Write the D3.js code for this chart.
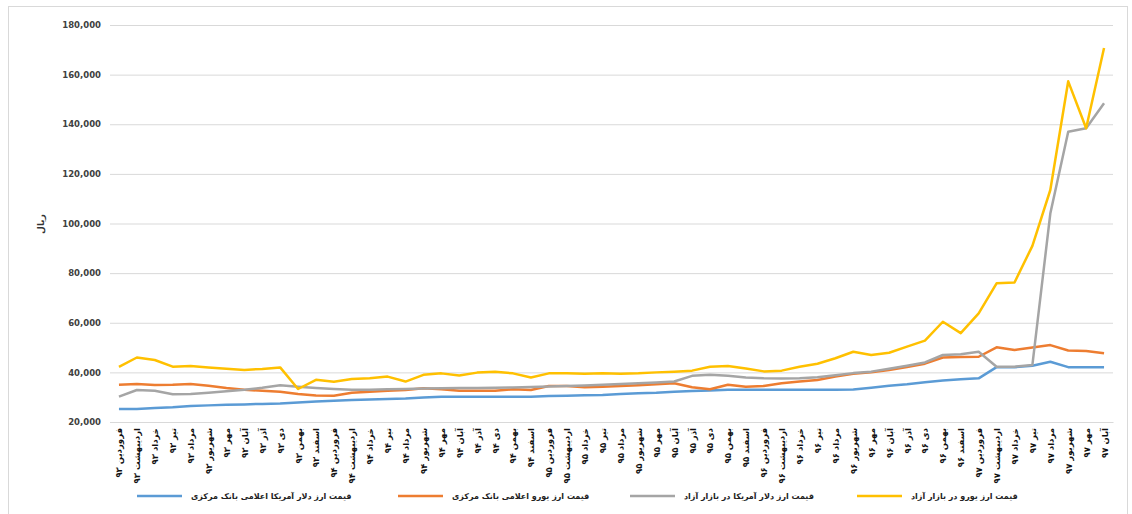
<!DOCTYPE html>
<html>
<head>
<meta charset="utf-8">
<script src="https://cdn.jsdelivr.net/npm/d3@7"></script>
<style>
  body { margin: 0; background: #fff; }
  text { font-family: "DejaVu Sans", sans-serif; }
</style>
</head>
<body>
<div id="root"></div>
<script>
const monthNames = ["فروردین", "اردیبهشت", "خرداد", "تیر", "مرداد", "شهریور", "مهر", "آبان", "آذر", "دی", "بهمن", "اسفند"];
const yearNames = ["۹۳", "۹۴", "۹۵", "۹۶", "۹۷"];

// month labels: farvardin 93 .. aban 97
let categories = [];
yearNames.forEach((y, yi) => {
  monthNames.forEach((m, mi) => {
    if (yi < 4 || mi < 8) categories.push(m + " " + y);
  });
});

const usdCentral = [25200, 25200, 25600, 25900, 26400, 26700, 27000, 27100, 27300, 27500, 27900, 28300, 28600, 28900,
  29100, 29300, 29500, 29900, 30200, 30200, 30200, 30200, 30200, 30200, 30500, 30600, 30800, 30900, 31300, 31600,
  31800, 32200, 32500, 32700, 33000, 33000, 33000, 33000, 33000, 33000, 33000, 33100, 33800, 34600, 35200, 36000,
  36700, 37200, 37600, 42100, 42100, 42700, 44300, 42100, 42100, 42100];

const eurCentral = [35000, 35300, 34900, 35000, 35300, 34600, 33700, 33000, 32600, 32200, 31300, 30700, 30600, 31800,
  32200, 32600, 32900, 33600, 33200, 32600, 32600, 32600, 33200, 32900, 34500, 34500, 34000, 34200, 34500, 34800,
  35200, 35600, 34000, 33200, 35000, 34200, 34500, 35600, 36300, 36900, 38300, 39400, 40000, 41000, 42200, 43500,
  46000, 46200, 46300, 50100, 49000, 50000, 51000, 48800, 48600, 47700];

const usdFree = [30200, 32900, 32600, 31200, 31300, 31800, 32400, 33000, 33800, 34800, 34200, 33700, 33300, 33000,
  33000, 33200, 33300, 33500, 33600, 33700, 33700, 33800, 33900, 34100, 34300, 34500, 34700, 35000, 35300, 35600,
  35900, 36300, 38600, 39000, 38600, 37900, 37600, 37500, 37600, 38000, 38800, 39700, 40300, 41500, 42700, 44000,
  47000, 47300, 48300, 42300, 42300, 43000, 104000, 137000, 138400, 148500];

const eurFree = [42200, 46000, 45000, 42300, 42600, 42000, 41500, 41000, 41400, 42000, 33300, 37000, 36200, 37300,
  37600, 38300, 36300, 39000, 39600, 38700, 39900, 40300, 39600, 37900, 39600, 39600, 39400, 39600, 39400, 39600,
  40000, 40300, 40700, 42300, 42600, 41600, 40400, 40700, 42300, 43500, 45700, 48300, 47000, 47900, 50400, 52800,
  60400, 55800, 63800, 75900, 76200, 91000, 113500, 157300, 138400, 170700];

const seriesNames = [
  "قیمت ارز دلار آمریکا اعلامی بانک مرکزی",
  "قیمت ارز یورو اعلامی بانک مرکزی",
  "قیمت ارز دلار آمریکا در بازار آزاد",
  "قیمت ارز یورو در بازار آزاد"
];
const seriesColors = ["#5b9bd5", "#ed7d31", "#a5a5a5", "#ffc000"];
const seriesValues = [usdCentral, eurCentral, usdFree, eurFree];
const yTicks = [20000, 40000, 60000, 80000, 100000, 120000, 140000, 160000, 180000];

const width = 1132;
const height = 514;

const svg = d3.select("#root")
  .append("svg")
  .attr("width", width)
  .attr("height", height);

// chart frame
svg.append("rect")
  .attr("x", 8.5)
  .attr("y", 6.5)
  .attr("width", 1119)
  .attr("height", 520)
  .attr("fill", "none")
  .attr("stroke", "#d9d9d9");

const x = d3.scalePoint()
  .domain(categories)
  .range([110, 1113])
  .padding(0.5);

const y = d3.scaleLinear()
  .domain([20000, 180000])
  .range([422, 25]);

// grid + y axis
const yAxis = d3.axisLeft(y)
  .tickValues(yTicks)
  .tickSize(-(1113 - 110))
  .tickPadding(9)
  .tickFormat(d3.format(","));

const gy = svg.append("g")
  .attr("transform", "translate(110,0)")
  .call(yAxis);
gy.select(".domain").remove();
gy.selectAll(".tick line").attr("stroke", "#d9d9d9");
gy.selectAll(".tick text")
  .attr("fill", "#404040")
  .attr("font-size", 8.5)
  .attr("font-weight", "bold")
  .attr("font-family", "DejaVu Sans");

svg.append("text")
  .attr("transform", "translate(44,224) rotate(-90)")
  .attr("text-anchor", "middle")
  .attr("font-size", 9)
  .attr("font-weight", "bold")
  .attr("fill", "#333")
  .text("ریال");

// x axis labels
const xAxis = d3.axisBottom(x).tickSize(0).tickPadding(0);
const gx = svg.append("g")
  .attr("transform", "translate(0,422)")
  .call(xAxis);
gx.select(".domain").attr("stroke", "#d9d9d9");
gx.selectAll(".tick text")
  .attr("transform", "translate(0,6) rotate(-90)")
  .attr("x", 0)
  .attr("y", 0)
  .attr("dy", "0.35em")
  .attr("text-anchor", "end")
  .attr("font-size", 8.5)
  .attr("font-weight", "bold")
  .attr("font-family", "DejaVu Sans")
  .attr("fill", "#111");

// lines
const line = d3.line()
  .x((d, i) => x(categories[i]))
  .y((d) => y(d));

seriesValues.forEach((vals, s) => {
  svg.append("path")
    .datum(vals)
    .attr("fill", "none")
    .attr("stroke", seriesColors[s])
    .attr("stroke-width", 2.5)
    .attr("stroke-linejoin", "round")
    .attr("d", line);
});

// legend
const legendX = [137, 398, 630, 857];
seriesNames.forEach((name, i) => {
  const g = svg.append("g").attr("transform", `translate(${legendX[i]},496)`);
  g.append("line")
    .attr("x1", 0)
    .attr("x2", 45)
    .attr("stroke", seriesColors[i])
    .attr("stroke-width", 2.5);
  g.append("text")
    .attr("x", 54)
    .attr("y", 3)
    .attr("font-size", 8)
    .attr("font-weight", "bold")
    .attr("fill", "#222")
    .text(name);
});
</script>
</body>
</html>
